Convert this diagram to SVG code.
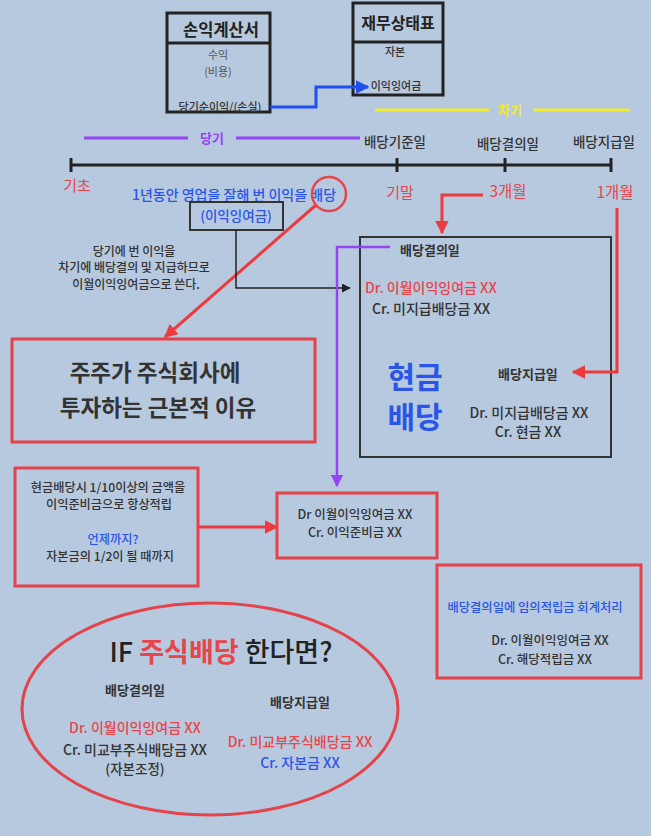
<svg xmlns="http://www.w3.org/2000/svg" width="651" height="836" viewBox="0 0 651 836">
<defs>
<style>
text{font-family:"Noto Sans CJK KR","Noto Sans",sans-serif;}
.dk{fill:#333;}
.gr{fill:#555;}
.rd{fill:#e8454b;}
.bl{fill:#2a55e6;}
.b{font-weight:bold;}
.m{font-weight:500;}
.c{text-anchor:middle;}
.box{fill:none;stroke:#222;stroke-width:3;}
.rbox{fill:none;stroke:#e4434a;stroke-width:3;}
.red{fill:none;stroke:#ec3b3f;stroke-width:3;}
</style>
<marker id="ar" viewBox="0 0 10 10" refX="9" refY="5" markerWidth="4.5" markerHeight="4.5" orient="auto" markerUnits="strokeWidth"><path d="M0,0L10,5L0,10z" fill="#ec3b3f"/></marker>
<marker id="ab" viewBox="0 0 10 10" refX="9" refY="5" markerWidth="4.5" markerHeight="4.5" orient="auto" markerUnits="strokeWidth"><path d="M0,0L10,5L0,10z" fill="#1f4fee"/></marker>
<marker id="ap" viewBox="0 0 10 10" refX="9" refY="5" markerWidth="5" markerHeight="5" orient="auto" markerUnits="strokeWidth"><path d="M0,0L10,5L0,10z" fill="#9445f2"/></marker>
<marker id="ak" viewBox="0 0 10 10" refX="9" refY="5" markerWidth="6" markerHeight="6" orient="auto" markerUnits="strokeWidth"><path d="M0,0L10,5L0,10z" fill="#222"/></marker>
</defs>
<rect width="651" height="836" fill="#b7c9df"/>

<g id="income-statement">
<rect x="167" y="13" width="103" height="99" class="box"/>
<line x1="167" y1="43" x2="270" y2="43" stroke="#222" stroke-width="3"/>
<text x="221" y="36" class="c b" font-size="16.5" fill="#222">손익계산서</text>
<text x="218" y="59" class="c gr" font-size="11">수익</text>
<text x="218" y="76" class="c gr" font-size="11">(비용)</text>
<text x="220" y="111" class="c m dk" font-size="11">당기순이익/(손실)</text>
</g>

<g id="balance-sheet">
<rect x="353" y="3" width="90" height="92" class="box"/>
<line x1="353" y1="42" x2="443" y2="42" stroke="#222" stroke-width="3"/>
<text x="398" y="29" class="c b" font-size="16" fill="#222">재무상태표</text>
<text x="395" y="56" class="c m dk" font-size="11">자본</text>
<text x="396" y="90" class="c m dk" font-size="11">이익잉여금</text>
</g>

<g id="timeline">
<line x1="84" y1="138" x2="188" y2="138" stroke="#9445f2" stroke-width="3"/>
<line x1="236" y1="138" x2="360" y2="138" stroke="#9445f2" stroke-width="3"/>
<text x="212" y="143" class="c b" font-size="13" fill="#9445f2">당기</text>
<line x1="375" y1="110" x2="489" y2="110" stroke="#f2ea2c" stroke-width="3"/>
<line x1="533" y1="110" x2="630" y2="110" stroke="#f2ea2c" stroke-width="3"/>
<text x="510" y="115" class="c b" font-size="13" fill="#f2ea2c">차기</text>
<text x="395" y="147" class="c m dk" font-size="13.5">배당기준일</text>
<text x="508" y="149" class="c m dk" font-size="13.5">배당결의일</text>
<text x="604" y="147" class="c m dk" font-size="13.5">배당지급일</text>
<line x1="71" y1="165" x2="611" y2="165" stroke="#222" stroke-width="3"/>
<line x1="71" y1="158" x2="71" y2="172" stroke="#222" stroke-width="3"/>
<line x1="397" y1="158" x2="397" y2="172" stroke="#222" stroke-width="3"/>
<line x1="505" y1="158" x2="505" y2="172" stroke="#222" stroke-width="3"/>
<line x1="611" y1="158" x2="611" y2="172" stroke="#222" stroke-width="3"/>
<text x="77" y="191" class="c rd" font-size="15">기초</text>
<text x="400" y="198" class="c rd" font-size="15">기말</text>
<text x="508" y="197" class="c rd" font-size="15.5">3개월</text>
<text x="615" y="198" class="c rd" font-size="15.5">1개월</text>
</g>

<g id="profit-note">
<text x="234" y="200" class="c m bl" font-size="14">1년동안 영업을 잘해 번 이익을 배당</text>
<circle cx="329" cy="194" r="17" fill="none" stroke="#e8454b" stroke-width="2.5"/>
<rect x="190" y="202" width="93" height="28" fill="none" stroke="#333" stroke-width="2"/>
<text x="236" y="221" class="c m bl" font-size="13.5">(이익잉여금)</text>
</g>

<g id="carry-note">
<text x="134" y="255.5" class="c m dk" font-size="12">당기에 번 이익을</text>
<text x="134" y="272" class="c m dk" font-size="12">차기에 배당결의 및 지급하므로</text>
<text x="136" y="288.5" class="c m dk" font-size="12">이월이익잉여금으로 쓴다.</text>
</g>

<g id="reason-box">
<rect x="12" y="339" width="303" height="103" class="rbox"/>
<text x="155" y="381" class="c b dk" font-size="22.5">주주가 주식회사에</text>
<text x="158" y="416" class="c b dk" font-size="22.5">투자하는 근본적 이유</text>
</g>

<g id="cash-dividend-box">
<rect x="360" y="237" width="251" height="220" fill="none" stroke="#333" stroke-width="2"/>
<text x="400" y="255" class="b dk" font-size="13">배당결의일</text>
<text x="365" y="293" class="m rd" font-size="14">Dr. 이월이익잉여금 XX</text>
<text x="372" y="314" class="m dk" font-size="14">Cr. 미지급배당금 XX</text>
<text x="415" y="388" class="c b bl" font-size="30">현금</text>
<text x="415" y="428" class="c b bl" font-size="30">배당</text>
<text x="498" y="379" class="b dk" font-size="13">배당지급일</text>
<text x="529" y="418" class="c m dk" font-size="14">Dr. 미지급배당금 XX</text>
<text x="528" y="437" class="c m dk" font-size="14">Cr. 현금 XX</text>
</g>

<g id="legal-reserve-note">
<rect x="15" y="468" width="183" height="118" class="rbox"/>
<text x="108" y="492" class="c m dk" font-size="12.2">현금배당시 1/10이상의 금액을</text>
<text x="109" y="509" class="c m dk" font-size="12.2">이익준비금으로 항상적립</text>
<text x="113" y="544" class="c m bl" font-size="12.2">언제까지?</text>
<text x="110" y="561" class="c m dk" font-size="12.2">자본금의 1/2이 될 때까지</text>
</g>

<g id="legal-reserve-entry">
<rect x="277" y="493" width="160" height="65" class="rbox"/>
<text x="355" y="519" class="c m dk" font-size="12.5">Dr 이월이익잉여금 XX</text>
<text x="355" y="537" class="c m dk" font-size="12.5">Cr. 이익준비금 XX</text>
</g>

<g id="voluntary-reserve">
<rect x="437" y="565" width="204" height="113" class="rbox"/>
<text x="535" y="612" class="c m bl" font-size="12.3">배당결의일에 임의적립금 회계처리</text>
<text x="550" y="645" class="c m dk" font-size="12.5">Dr. 이월이익잉여금 XX</text>
<text x="545" y="664" class="c m dk" font-size="12.5">Cr. 해당적립금 XX</text>
</g>

<g id="stock-dividend">
<ellipse cx="210" cy="709" rx="188" ry="106" fill="none" stroke="#e4434a" stroke-width="3"/>
<text x="221" y="662" class="c m" font-size="27" fill="#222">IF <tspan fill="#e8454b" font-weight="bold">주식배당</tspan> 한다면?</text>
<text x="135" y="695" class="c b dk" font-size="13">배당결의일</text>
<text x="300" y="707" class="c b dk" font-size="13">배당지급일</text>
<text x="135" y="733" class="c m rd" font-size="14">Dr. 이월이익잉여금 XX</text>
<text x="135" y="755" class="c m dk" font-size="14">Cr. 미교부주식배당금 XX</text>
<text x="135" y="774" class="c m dk" font-size="13.5">(자본조정)</text>
<text x="300" y="747" class="c m rd" font-size="14">Dr. 미교부주식배당금 XX</text>
<text x="300" y="768" class="c m bl" font-size="14">Cr. 자본금 XX</text>
</g>

<g id="connectors">
<polyline points="270,107 316,107 316,87 368,87" fill="none" stroke="#1f4fee" stroke-width="3" marker-end="url(#ab)"/>
<line x1="316" y1="205" x2="165" y2="337" class="red" marker-end="url(#ar)"/>
<polyline points="236,230 236,288 350,288" fill="none" stroke="#222" stroke-width="1.5" marker-end="url(#ak)"/>
<polyline points="483,195 442,195 442,233" class="red" marker-end="url(#ar)"/>
<polyline points="617,208 617,372 573,372" class="red" marker-end="url(#ar)"/>
<polyline points="390,247 337,247 337,486" fill="none" stroke="#9445f2" stroke-width="2.5" marker-end="url(#ap)"/>
<line x1="198" y1="527" x2="277" y2="527" class="red" marker-end="url(#ar)"/>
</g>
</svg>
